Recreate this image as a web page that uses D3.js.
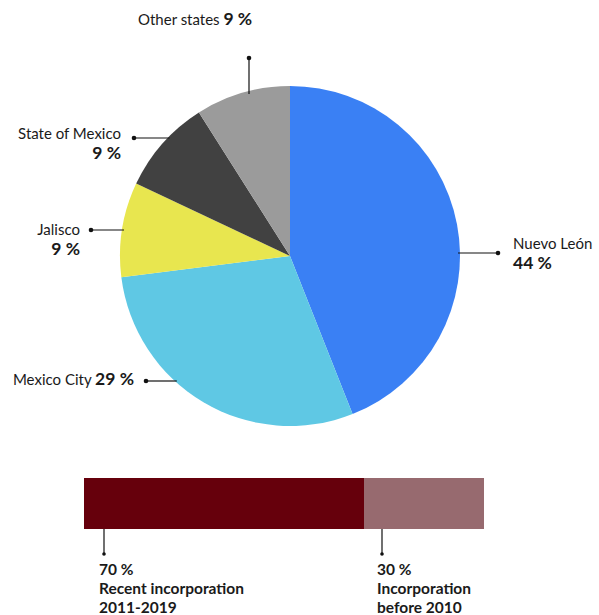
<!DOCTYPE html>
<html>
<head>
<meta charset="utf-8">
<script src="https://cdn.jsdelivr.net/npm/d3@7"></script>
<style>
  html, body { margin: 0; padding: 0; background: #fff; }
  svg { display: block; font-family: Lato, "Open Sans", sans-serif; }
  .name { font-size: 15px; fill: #1a1a1a; }
  .pct { font-size: 17.5px; font-weight: 700; fill: #1a1a1a; }
  .bar-label { font-size: 15.5px; font-weight: 700; fill: #1a1a1a; }
</style>
</head>
<body>
<svg id="chart" width="599" height="615"></svg>
<script>
// Share of companies by state (percent)
const states = ["Nuevo León", "Mexico City", "Jalisco", "State of Mexico", "Other states"];
const shares = [44, 29, 9, 9, 9];
const stateColors = ["#3a80f4", "#5fc8e4", "#e8e64f", "#414141", "#9b9b9b"];

// Incorporation period split (percent)
const periods = ["Recent incorporation", "Incorporation"];
const periodSubs = ["2011-2019", "before 2010"];
const periodShares = [70, 30];
const periodColors = ["#66000c", "#976a6f"];

const svg = d3.select("#chart");

// ---- Pie ----
const cx = 290, cy = 256, R = 170;
const pie = d3.pie().sort(null).value(d => d)(shares);
const arc = d3.arc().innerRadius(0).outerRadius(R);
const g = svg.append("g").attr("transform", `translate(${cx},${cy})`);
g.selectAll("path").data(pie).join("path")
  .attr("d", arc)
  .attr("fill", (d, i) => stateColors[i]);

// Label layout: dot position, leader direction, text anchor
const labelLayout = [
  { dot: [498, 253], dir: "h", tx: 513, ty: 249, anchor: "start", twoLine: true },
  { dot: [146, 381], dir: "h", tx: 134, ty: 385, anchor: "end", twoLine: false },
  { dot: [91, 230], dir: "h", tx: 80, ty: 235, anchor: "end", twoLine: true },
  { dot: [134, 138], dir: "h", tx: 121, ty: 139, anchor: "end", twoLine: true },
  { dot: [249, 58], dir: "v", tx: 138, ty: 25, anchor: "start", twoLine: false }
];

const leaders = svg.append("g");
labelLayout.forEach((L, i) => {
  const [dx, dy] = L.dot;
  let ex, ey;
  if (L.dir === "h") {
    const off = Math.sqrt(R * R - (dy - cy) * (dy - cy));
    ex = dx > cx ? cx + off - 2 : cx - off + 2;
    ey = dy;
  } else {
    const off = Math.sqrt(R * R - (dx - cx) * (dx - cx));
    ex = dx;
    ey = dy < cy ? cy - off + 3 : cy + off - 3;
  }
  leaders.append("line")
    .attr("x1", dx).attr("y1", dy).attr("x2", ex).attr("y2", ey)
    .attr("stroke", "#111").attr("stroke-width", 1.2);
  leaders.append("circle").attr("cx", dx).attr("cy", dy).attr("r", 2.3).attr("fill", "#111");

  const t = svg.append("text").attr("text-anchor", L.anchor)
    .attr("x", L.tx).attr("y", L.ty);
  if (L.twoLine) {
    t.append("tspan").attr("class", "name").text(states[i]);
    t.append("tspan").attr("class", "pct").attr("x", L.tx).attr("dy", 20).text(shares[i] + " %");
  } else {
    t.append("tspan").attr("class", "name").text(states[i] + " ");
    t.append("tspan").attr("class", "pct").text(shares[i] + " %");
  }
});

// ---- Stacked bar ----
const x = d3.scaleLinear().domain([0, 100]).range([84, 484]);
const barY = 478, barH = 51;
let acc = 0;
const segs = periodShares.map(v => { const s = { x0: acc, x1: acc + v, v }; acc += v; return s; });
svg.append("g").selectAll("rect").data(segs).join("rect")
  .attr("x", d => x(d.x0)).attr("width", d => x(d.x1) - x(d.x0))
  .attr("y", barY).attr("height", barH)
  .attr("fill", (d, i) => periodColors[i]);

const barLabelX = [x(5), x(74.5)];
segs.forEach((d, i) => {
  const lx = barLabelX[i];
  svg.append("line").attr("x1", lx).attr("x2", lx)
    .attr("y1", barY + barH).attr("y2", 554)
    .attr("stroke", "#111").attr("stroke-width", 1.2);
  svg.append("circle").attr("cx", lx).attr("cy", 554).attr("r", 1.8).attr("fill", "#111");
  const t = svg.append("text").attr("class", "bar-label").attr("x", lx - 5).attr("y", 575);
  t.append("tspan").text(d.v + " %");
  t.append("tspan").attr("x", lx - 5).attr("dy", 19).text(periods[i]);
  t.append("tspan").attr("x", lx - 5).attr("dy", 19).text(periodSubs[i]);
});
</script>
</body>
</html>
